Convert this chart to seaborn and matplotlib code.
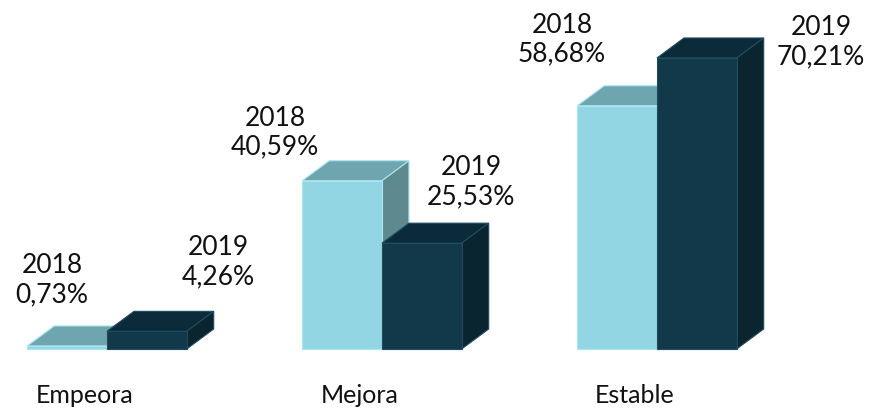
import pandas as pd
import matplotlib
matplotlib.use("Agg")
import matplotlib.pyplot as plt
from matplotlib.patches import Polygon
import seaborn as sns

# data
categories = ["Empeora", "Mejora", "Estable"]
years = ["2018", "2019"]
values_2018 = [0.73, 40.59, 58.68]
values_2019 = [4.26, 25.53, 70.21]

df = pd.DataFrame({
    "categoria": categories * 2,
    "anio": [years[0]] * 3 + [years[1]] * 3,
    "valor": values_2018 + values_2019,
})

# colours per year: front, top, side, edge
front = {"2018": "#93d6e3", "2019": "#12394a"}
top = {"2018": "#6fa5ae", "2019": "#0c2b3a"}
side = {"2018": "#5e8a8f", "2019": "#0a2430"}
edge = {"2018": "#a9e6f0", "2019": "#1f4c5e"}

# label offsets (pixels) from the top centre of each front face
label_offsets = {
    ("2018", 0): (-15, 40), ("2019", 0): (71, 43),
    ("2018", 1): (-67, 22), ("2019", 1): (49, 35),
    ("2018", 2): (-55, 40), ("2019", 2): (124, -10),
}

sns.set_style("white")
plt.rcParams["font.family"] = ["Lato", "DejaVu Sans"]

fig = plt.figure(figsize=(8.72, 4.10), dpi=100)
ax = fig.add_axes([0, 0, 1, 1])

sns.barplot(data=df, x="categoria", y="valor", hue="anio", order=categories,
            hue_order=years, palette=front, width=0.58, dodge=True,
            saturation=1, legend=False, ax=ax)

ax.set_xlim(-0.389, 2.782)
ax.set_ylim(-14.48, 84.44)

# depth of the fake 3d, pixels -> data
x0, x1 = ax.get_xlim()
y0, y1 = ax.get_ylim()
dx = 27 / 872 * (x1 - x0)
dy = 20 / 410 * (y1 - y0)

for bars, yr in zip(ax.containers, years):
    vals = values_2018 if yr == "2018" else values_2019
    z = 2 if yr == "2018" else 3
    for i, (bar, v) in enumerate(zip(bars, vals)):
        bar.set_zorder(z + 0.5)
        bar.set_edgecolor(edge[yr])
        bar.set_linewidth(0.8)
        xl = bar.get_x()
        xr = xl + bar.get_width()
        h = bar.get_height()
        top_face = [(xl, h), (xr, h), (xr + dx, h + dy), (xl + dx, h + dy)]
        side_face = [(xr, 0), (xr + dx, dy), (xr + dx, h + dy), (xr, h)]
        ax.add_patch(Polygon(top_face, closed=True, facecolor=top[yr],
                             edgecolor=edge[yr], lw=0.8, zorder=z))
        ax.add_patch(Polygon(side_face, closed=True, facecolor=side[yr],
                             edgecolor=edge[yr], lw=0.8, zorder=z))
        txt = f"{yr}\n{v:.2f}%".replace(".", ",")
        ax.annotate(txt, xy=(xl + bar.get_width() / 2, h),
                    xytext=label_offsets[(yr, i)], textcoords="offset pixels",
                    ha="center", va="bottom", fontsize=19, color="#111111",
                    linespacing=1.2, zorder=5)

# category labels
for i, cat in enumerate(categories):
    ax.annotate(cat, xy=(i, 0), xytext=(-22, -46), textcoords="offset pixels",
                ha="center", va="center", fontsize=18, color="#111111")

ax.set_axis_off()
fig.savefig("out.png", dpi=100)
